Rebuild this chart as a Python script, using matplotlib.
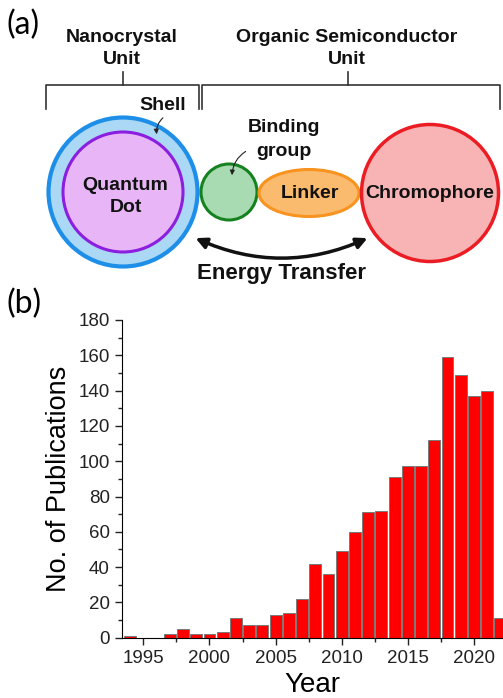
import matplotlib
matplotlib.use('Agg')
import matplotlib.pyplot as plt
from matplotlib.patches import Circle, Ellipse, FancyArrowPatch
from matplotlib.ticker import MultipleLocator

plt.rcParams['font.family'] = ['Liberation Sans', 'DejaVu Sans']

# ── data: publications per year ──
years = [1994, 1995, 1996, 1997, 1998, 1999, 2000, 2001, 2002, 2003,
         2004, 2005, 2006, 2007, 2008, 2009, 2010, 2011, 2012, 2013,
         2014, 2015, 2016, 2017, 2018, 2019, 2020, 2021, 2022]
publications = [1, 0, 0, 2, 5, 2, 2, 3, 11, 7,
                7, 13, 14, 22, 42, 36, 49, 60, 71, 72,
                91, 97, 97, 112, 159, 149, 137, 140, 11]
year_ticks = [1995, 2000, 2005, 2010, 2015, 2020]

W, H = 503, 698
fig = plt.figure(figsize=(W / 100, H / 100), dpi=100)

# ── Panel (a): schematic, drawn in pixel coordinates ──
ax0 = fig.add_axes([0, 0, 1, 1])
ax0.set_xlim(0, W)
ax0.set_ylim(H, 0)
ax0.axis('off')

bold = dict(fontweight='bold', ha='center', va='center', color='#111111')

ax0.text(7, 25, '(a)', fontsize=23, family=['Lato', 'DejaVu Sans'], va='center')
ax0.text(7, 304, '(b)', fontsize=23, family=['Lato', 'DejaVu Sans'], va='center')

ax0.text(122, 37, 'Nanocrystal', fontsize=14, **bold)
ax0.text(122, 60, 'Unit', fontsize=14, **bold)
ax0.text(347, 37, 'Organic Semiconductor', fontsize=14, **bold)
ax0.text(347, 60, 'Unit', fontsize=14, **bold)

# brackets
bc = '#333333'
ax0.plot([46, 46, 199, 199], [109, 85, 85, 109], color=bc, lw=1.2)
ax0.plot([123, 123], [72, 85], color=bc, lw=1.2)
ax0.plot([202, 202, 500, 500], [109, 85, 85, 109], color=bc, lw=1.2)
ax0.plot([348, 348], [72, 85], color=bc, lw=1.2)

# shapes
ax0.add_patch(Circle((123, 192), 74.5, facecolor='#aad8f5', edgecolor='#1e8fe8', lw=3))
ax0.add_patch(Circle((123, 192), 60, facecolor='#e8b6f7', edgecolor='#8c1ee0', lw=2.2))
ax0.add_patch(Circle((229, 192), 28, facecolor='#a8dbb2', edgecolor='#16821f', lw=2.2))
ax0.add_patch(Ellipse((309, 193), 100, 47, facecolor='#fbbb6e', edgecolor='#f7931e', lw=2.2))
ax0.add_patch(Circle((430, 193), 68.5, facecolor='#f8b4b4', edgecolor='#ec1c24', lw=2.5))

ax0.text(125, 185, 'Quantum', fontsize=14, **bold)
ax0.text(126, 207, 'Dot', fontsize=14, **bold)
ax0.text(163, 106, 'Shell', fontsize=14, **bold)
ax0.text(284, 128, 'Binding', fontsize=14, **bold)
ax0.text(284, 151, 'group', fontsize=14, **bold)
ax0.text(310, 193, 'Linker', fontsize=14, **bold)
ax0.text(430, 193, 'Chromophore', fontsize=14, **bold)
ax0.text(282, 274, 'Energy Transfer', fontsize=16, **bold)

# small pointer arrows
ax0.add_patch(FancyArrowPatch((165, 116), (157, 137), arrowstyle='-|>', mutation_scale=7,
                              connectionstyle='arc3,rad=0.3', color='#222222', lw=0.8))
ax0.add_patch(FancyArrowPatch((248, 150), (232, 178), arrowstyle='-|>', mutation_scale=7,
                              connectionstyle='arc3,rad=0.3', color='#222222', lw=0.8))
# energy transfer arrow
ax0.add_patch(FancyArrowPatch((193, 237), (370, 237), arrowstyle='<|-|>', mutation_scale=16,
                              connectionstyle='arc3,rad=0.23', color='#111111', lw=2.5))

# ── Panel (b): bar chart ──
x0 = 121.7 / W
y0 = (H - 637.7) / H
ax_h = (637.7 - 320) / H
ax_w = (503 - 121.7) / W
ax = fig.add_axes([x0, y0, ax_w, ax_h])
ax.bar(years, publications, width=0.9, color='#ff0000', edgecolor='#7a7a7a', linewidth=0.7)
ax.set_xlim(1993.36, 2022.2)
ax.set_ylim(0, 180)
ax.spines['top'].set_visible(False)
ax.spines['right'].set_visible(False)
ax.set_xticks(year_ticks)
ax.xaxis.set_minor_locator(MultipleLocator(2.5))
ax.yaxis.set_major_locator(MultipleLocator(20))
ax.yaxis.set_minor_locator(MultipleLocator(10))
ax.tick_params(which='major', direction='out', length=5, width=1, labelsize=13.5, colors='#222222')
ax.tick_params(which='minor', direction='out', length=3, width=1, colors='#222222')
ax.set_xlabel('Year', fontsize=20, labelpad=4)
ax.set_ylabel('No. of Publications', fontsize=19.5, labelpad=5)

fig.savefig('out.png', dpi=100)
